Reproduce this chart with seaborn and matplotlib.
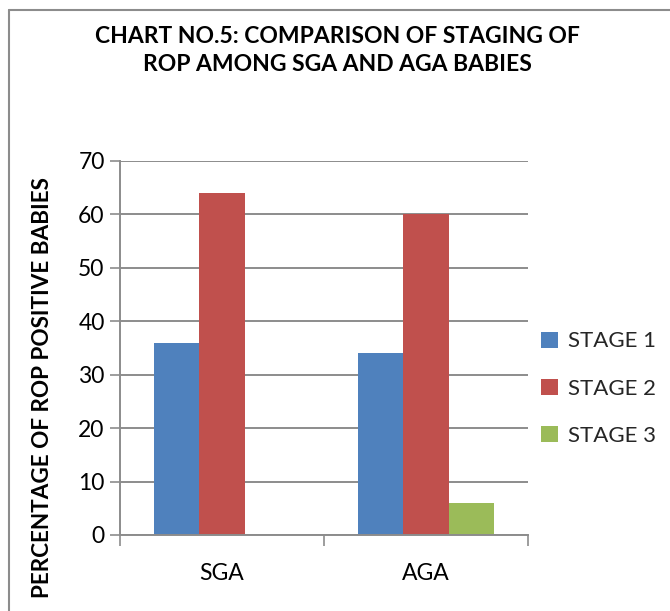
import matplotlib
matplotlib.use("Agg")
import matplotlib.pyplot as plt
from matplotlib.lines import Line2D
from matplotlib.patches import Patch
import seaborn as sns
import pandas as pd

# Data
groups = ["SGA", "AGA"]
stages = ["STAGE 1", "STAGE 2", "STAGE 3"]
stage1 = [36, 34]
stage2 = [64, 60]
stage3 = [0, 6]
colors = ["#4F81BD", "#C0504D", "#9BBB59"]
yticks = [0, 10, 20, 30, 40, 50, 60, 70]

df = pd.DataFrame({
    "group": groups * 3,
    "stage": [s for s in stages for _ in groups],
    "value": stage1 + stage2 + stage3,
})

sns.set_theme(style="white")
plt.rcParams["font.family"] = ["Lato", "DejaVu Sans"]

fig = plt.figure(figsize=(6.70, 6.11), dpi=100)
ax = fig.add_axes([0.179, 0.1244, 0.609, 0.6121])

sns.barplot(data=df, x="group", y="value", hue="stage", order=groups,
            hue_order=stages, palette=colors, width=0.67, linewidth=0,
            saturation=1, ax=ax, legend=False)

grid_c = "#8C8C8C"
ax.set_xlim(-0.5, 1.5)
ax.set_ylim(0, 70)
ax.set_yticks(yticks)
ax.set_yticklabels([str(v) for v in yticks], fontsize=16.5, color="#000000")
ax.yaxis.grid(True, color=grid_c, linewidth=1.4)
ax.set_axisbelow(True)
ax.tick_params(axis="y", length=7, width=1.2, color=grid_c, pad=4, left=True)

ax.set_xticks([0, 1])
ax.set_xticklabels(groups, fontsize=16.5, color="#000000")
ax.set_xticks([-0.5, 0.5, 1.5], minor=True)
ax.tick_params(axis="x", which="major", length=0, pad=20)
ax.tick_params(axis="x", which="minor", length=8, width=1.2, color=grid_c, bottom=True)

for side in ["top", "right"]:
    ax.spines[side].set_visible(False)
for side in ["left", "bottom"]:
    ax.spines[side].set_color(grid_c)
    ax.spines[side].set_linewidth(1.4)

ax.set_xlabel("")
ax.set_ylabel("PERCENTAGE OF ROP POSITIVE BABIES", fontsize=16.2,
              fontweight="bold", color="#000000")
ax.yaxis.set_label_coords(-0.165, 0.395)

fig.text(0.503, 0.917, "CHART NO.5: COMPARISON OF STAGING OF\nROP AMONG SGA AND AGA BABIES",
         ha="center", va="center", fontsize=16.5, fontweight="bold",
         linespacing=1.4, color="#000000")

handles = [Patch(facecolor=c, edgecolor="none") for c in colors]
fig.legend(handles, stages, loc="center left", bbox_to_anchor=(0.794, 0.364),
           frameon=False, fontsize=16, handlelength=0.75, handleheight=0.75,
           handletextpad=0.45, labelspacing=1.22, borderaxespad=0)

# outer chart frame (top and left edges)
fig.add_artist(Line2D([0.014, 1.0], [1 - 10 / 611, 1 - 10 / 611],
                      transform=fig.transFigure, color=grid_c, linewidth=1.5))
fig.add_artist(Line2D([0.014, 0.014], [0.0, 1 - 10 / 611],
                      transform=fig.transFigure, color=grid_c, linewidth=1.5))

fig.savefig("out.png", dpi=100, facecolor="white")
